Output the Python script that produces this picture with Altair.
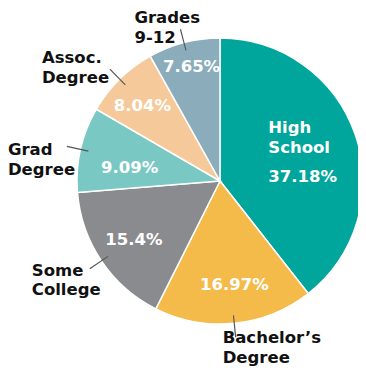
import math
import altair as alt
import pandas as pd

categories = ["High School", "Bachelor’s Degree", "Some College", "Grad Degree", "Assoc. Degree", "Grades 9-12"]
name_lines = [["High", "School"], ["Bachelor’s", "Degree"], ["Some", "College"],
              ["Grad", "Degree"], ["Assoc.", "Degree"], ["Grades", "9-12"]]
values = [37.18, 16.97, 15.4, 9.09, 8.04, 7.65]
pct_labels = ["37.18%", "16.97%", "15.4%", "9.09%", "8.04%", "7.65%"]
colors = ["#00a59b", "#f4bb4a", "#8a8b8e", "#7ac8c4", "#f6c99b", "#8aacbb"]

total = sum(values)
cum = 0.0
mids = []
for v in values:
    mids.append((cum + v / 2) / total * 2 * math.pi)
    cum += v

df = pd.DataFrame({
    "category": categories,
    "value": values,
    "order": list(range(len(values))),
    "pct": pct_labels,
    "lines": name_lines,
    "mid": mids,
})
df["t1"] = df["mid"] - 0.004
df["t2"] = df["mid"] + 0.004

CX, CY = 212, 173
FONT = "DejaVu Sans"
FS = 16.5
cx = alt.value(CX)
cy = alt.value(CY)

pie = alt.Chart(df).mark_arc(outerRadius=143, stroke="white", strokeWidth=1.5).encode(
    theta=alt.Theta("value:Q", stack=True),
    order=alt.Order("order:Q"),
    color=alt.Color("category:N", scale=alt.Scale(domain=categories, range=colors), legend=None),
    x=cx, y=cy,
)

outer = df[df["category"] != "High School"]
leaders = alt.Chart(outer).mark_arc(innerRadius=135, outerRadius=157, color="#555555").encode(
    theta=alt.Theta("t1:Q", scale=None, stack=False),
    theta2="t2:Q",
    x=cx, y=cy,
)

layers = [pie, leaders]

# (dx, dy) nudges for the inside percentage labels
pct_nudge = {
    "Bachelor’s Degree": (4, 0),
    "Some College": (1, 0),
    "Grad Degree": (12, 10),
    "Assoc. Degree": (-4, 0),
    "Grades 9-12": (-2, -12),
}
for cat, (dx, dy) in pct_nudge.items():
    layers.append(
        alt.Chart(df[df["category"] == cat]).mark_text(
            font=FONT, fontSize=FS, fontWeight="bold", color="white",
            align="center", baseline="middle", dx=dx, dy=dy,
        ).encode(
            theta=alt.Theta("mid:Q", scale=None, stack=False),
            radius=alt.value(105),
            text="pct:N", x=cx, y=cy,
        )
    )

hs = df[df["category"] == "High School"]
layers.append(
    alt.Chart(hs).mark_text(
        font=FONT, fontSize=FS, fontWeight="bold", color="white",
        align="left", baseline="middle", dx=-51, dy=-19, lineHeight=20,
    ).encode(theta=alt.Theta("mid:Q", scale=None, stack=False), radius=alt.value(105),
             text="lines", x=cx, y=cy)
)
layers.append(
    alt.Chart(hs).mark_text(
        font=FONT, fontSize=FS, fontWeight="bold", color="white",
        align="left", baseline="middle", dx=-51, dy=30,
    ).encode(theta=alt.Theta("mid:Q", scale=None, stack=False), radius=alt.value(105),
             text="pct:N", x=cx, y=cy)
)

# (dx, dy) for outside category labels, anchored at the leader tip
name_nudge = {
    "Bachelor’s Degree": (-13, 1),
    "Some College": (-58, 2),
    "Grad Degree": (-59, 4),
    "Assoc. Degree": (-68, -11),
    "Grades 9-12": (-46, -11),
}
for cat, (dx, dy) in name_nudge.items():
    layers.append(
        alt.Chart(df[df["category"] == cat]).mark_text(
            font=FONT, fontSize=FS, fontWeight="bold", color="#111111",
            align="left", baseline="middle", dx=dx, dy=dy, lineHeight=19.5,
        ).encode(
            theta=alt.Theta("mid:Q", scale=None, stack=False),
            radius=alt.value(157),
            text="lines", x=cx, y=cy,
        )
    )

chart = alt.layer(*layers).properties(
    width=350, height=361, padding=0, autosize="none"
).configure_view(stroke=None)

chart.save("out.html", embed_options={"renderer": "svg", "actions": False})
